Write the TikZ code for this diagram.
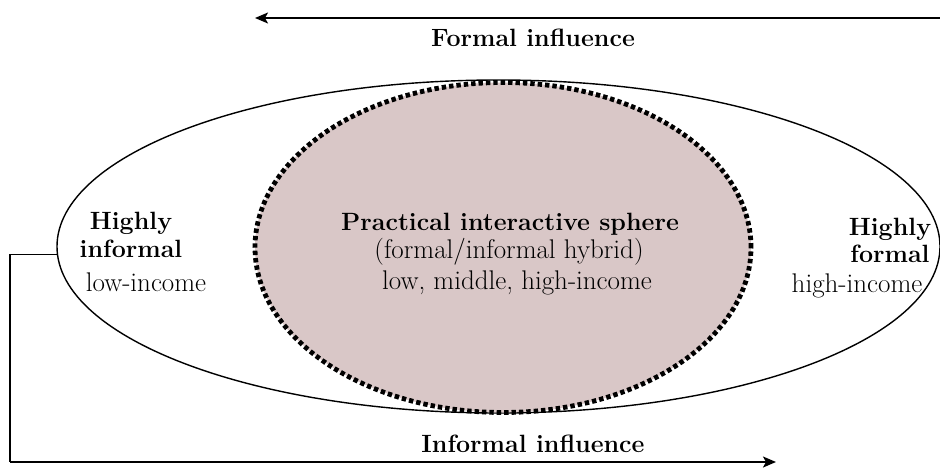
\documentclass[tikz,border=0pt]{standalone}
\usetikzlibrary{shapes.geometric,arrows.meta}
\definecolor{spherefill}{HTML}{D9C7C7}
\begin{document}
\begin{tikzpicture}[x=1pt,y=-1pt,
  lbl/.style={inner sep=0pt,anchor=base,font=\fontsize{27}{30}\selectfont},
  blbl/.style={inner sep=0pt,anchor=base,font=\fontsize{25}{28}\selectfont\bfseries},
  arr/.style={line width=1.8pt,-{Stealth[length=13pt,width=11pt,inset=3pt]}},
  conn/.style={line width=1.4pt}]
\useasboundingbox (0,0) rectangle (940,468);
\node[ellipse,draw,line width=1.4pt,minimum width=883pt,minimum height=333pt,inner sep=0pt] (outer) at (498.5,246.5) {};
\node[ellipse,draw,fill=spherefill,line width=4.8pt,dash pattern=on 4.4pt off 3pt,minimum width=496pt,minimum height=330pt,inner sep=0pt] (inner) at (503,247.5) {};
% top arrow
\coordinate (fs) at (940,18);
\coordinate (fe) at (255,18);
\draw[arr] (fs) -- (fe);
\node[blbl] (formal) at (533,47) {Formal influence};
% bottom connector
\coordinate (cl) at (10,462);
\coordinate (ie) at (776,462);
\draw[conn] (outer.181) -| (cl);
\draw[arr] (cl) -- (ie);
\node[blbl] (informal) at (533,452) {Informal influence};
% central texts
\node[blbl] (pis) at (510,230) {Practical interactive sphere};
\node[lbl] (hyb) at (509,258) {(formal/informal hybrid)};
\node[lbl] (lmh) at (517,289) {low, middle, high-income};
% left
\node[blbl] (hl1) at (131,229) {Highly};
\node[blbl] (hl2) at (131,257) {informal};
\node[lbl] (li) at (146,291) {low-income};
% right
\node[blbl] (hr1) at (890,235) {Highly};
\node[blbl] (hr2) at (890,262) {formal};
\node[lbl] (hi) at (857,292) {high-income};
\end{tikzpicture}
\end{document}
